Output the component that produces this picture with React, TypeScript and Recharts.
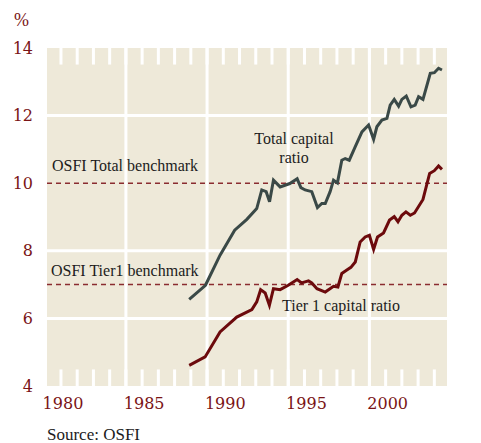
import React from 'react';
import {
  LineChart,
  Line,
  XAxis,
  YAxis,
  CartesianGrid,
  ReferenceLine,
} from 'recharts';

const totalYears = [
  1987.9, 1988.9, 1989.8, 1990.7, 1991.45, 1992.06, 1992.37, 1992.64, 1992.85, 1993.09,
  1993.5, 1994.1, 1994.55, 1994.78, 1995.04, 1995.45, 1995.8, 1996.07, 1996.28, 1996.58,
  1996.79, 1997.03, 1997.3, 1997.51, 1997.76, 1998.13, 1998.54, 1998.95, 1999.26, 1999.46,
  1999.77, 2000.08, 2000.28, 2000.53, 2000.8, 2001.0, 2001.27, 2001.56, 2001.82, 2002.03,
  2002.3, 2002.75, 2003.0, 2003.26, 2003.47,
];
const totalValues = [
  6.56, 6.98, 7.87, 8.61, 8.93, 9.25, 9.8, 9.75, 9.45, 10.09,
  9.89, 9.99, 10.13, 9.87, 9.8, 9.75, 9.28, 9.4, 9.4, 9.75,
  10.09, 10.01, 10.68, 10.73, 10.68, 11.08, 11.52, 11.72, 11.3, 11.67,
  11.87, 11.92, 12.31, 12.48, 12.28, 12.48, 12.58, 12.26, 12.31, 12.56,
  12.48, 13.25, 13.27, 13.4, 13.35,
];

const tier1Years = [
  1987.9, 1988.88, 1989.8, 1990.83, 1991.76, 1992.06, 1992.3, 1992.58, 1992.84, 1993.09,
  1993.5, 1994.0, 1994.55, 1994.82, 1995.25, 1995.45, 1995.77, 1996.28, 1996.79, 1997.06,
  1997.3, 1997.61, 1997.86, 1998.13, 1998.43, 1998.74, 1999.0, 1999.26, 1999.5, 1999.87,
  2000.24, 2000.53, 2000.76, 2001.0, 2001.25, 2001.52, 2001.78, 2002.3, 2002.71, 2003.0,
  2003.26, 2003.47,
];
const tier1Values = [
  4.61, 4.86, 5.6, 6.04, 6.26, 6.49, 6.85, 6.75, 6.39, 6.88,
  6.85, 6.98, 7.15, 7.05, 7.11, 7.05, 6.88, 6.78, 6.95, 6.93,
  7.33, 7.43, 7.51, 7.67, 8.26, 8.41, 8.46, 8.04, 8.41, 8.53,
  8.91, 9.01, 8.86, 9.05, 9.15, 9.05, 9.12, 9.52, 10.29, 10.37,
  10.51, 10.41,
];

const yearTicks = [
  1980, 1981, 1982, 1983, 1984, 1985, 1986, 1987, 1988, 1989, 1990, 1991,
  1992, 1993, 1994, 1995, 1996, 1997, 1998, 1999, 2000, 2001, 2002, 2003,
];
const labelYears = [1980, 1985, 1990, 1995, 2000];
const gridYears = [1984, 1989, 1994, 1999];
const valueTicks = [4, 6, 8, 10, 12, 14];
const gridValues = [6, 8, 12];
const totalBenchmark = 10;
const tier1Benchmark = 7;

const totalData = totalYears.map((year, i) => ({ year, value: totalValues[i] }));
const tier1Data = tier1Years.map((year, i) => ({ year, value: tier1Values[i] }));

const RED = '#7a1416';
const SERIF = '"Liberation Serif", "Times New Roman", serif';
const NUM_FONT = '"DejaVu Serif", serif';
const xDomain = [1979.14, 2003.78];
const yMin = 4;
const yMax = 14;
const notch = 0.49;

export default function App() {
  const axisText = { fill: RED, fontSize: 16, fontFamily: NUM_FONT };
  return (
    <div style={{ position: 'relative', width: 481, height: 443, background: '#fff' }}>
      <style>{'body{margin:0}'}</style>
      <LineChart width={481} height={443} margin={{ top: 48, right: 0, bottom: 27, left: 0 }}>
        <CartesianGrid fill="#eee9d9" fillOpacity={1} horizontal={false} vertical={false} />
        <XAxis
          type="number"
          dataKey="year"
          domain={xDomain}
          allowDataOverflow
          ticks={labelYears}
          interval={0}
          height={30}
          axisLine={false}
          tickLine={false}
          tickSize={0}
          tickMargin={12}
          tick={{ ...axisText, dx: 2 }}
        />
        <YAxis
          domain={[yMin, yMax]}
          ticks={valueTicks}
          width={47}
          axisLine={false}
          tickLine={false}
          tickMargin={8}
          tick={axisText}
        />
        <YAxis
          yAxisId="right"
          orientation="right"
          domain={[yMin, yMax]}
          ticks={valueTicks}
          width={34}
          axisLine={false}
          tickLine={false}
          tickMargin={5}
          tick={axisText}
        />
        {gridValues.map((v) => (
          <ReferenceLine key={`h${v}`} y={v} stroke="#ffffff" strokeWidth={3} />
        ))}
        {gridYears.map((yr) => (
          <ReferenceLine key={`v${yr}`} x={yr} stroke="#ffffff" strokeWidth={3} />
        ))}
        {yearTicks.map((yr) => (
          <ReferenceLine
            key={`b${yr}`}
            segment={[{ x: yr, y: yMin }, { x: yr, y: yMin + notch }]}
            stroke="#ffffff"
            strokeWidth={3}
          />
        ))}
        {yearTicks.map((yr) => (
          <ReferenceLine
            key={`t${yr}`}
            segment={[{ x: yr, y: yMax - notch }, { x: yr, y: yMax }]}
            stroke="#ffffff"
            strokeWidth={3}
          />
        ))}
        <ReferenceLine y={totalBenchmark} stroke="#8a2c30" strokeWidth={1.5} strokeDasharray="5 4" />
        <ReferenceLine y={tier1Benchmark} stroke="#8a2c30" strokeWidth={1.5} strokeDasharray="5 4" />
        <Line
          data={totalData}
          dataKey="value"
          type="linear"
          stroke="#3a4947"
          strokeWidth={3}
          dot={false}
          isAnimationActive={false}
        />
        <Line
          data={tier1Data}
          dataKey="value"
          type="linear"
          stroke="#6c0a0c"
          strokeWidth={3}
          dot={false}
          isAnimationActive={false}
        />
      </LineChart>
      <svg
        width={481}
        height={443}
        style={{ position: 'absolute', left: 0, top: 0, pointerEvents: 'none' }}
        fontFamily={SERIF}
      >
        <text x={14} y={26} fontSize={18} fill={RED}>%</text>
        <text x={52} y={171} fontSize={16} fill="#1c1c1c">OSFI Total benchmark</text>
        <text x={294} y={144} fontSize={16} fill="#1c1c1c" textAnchor="middle">Total capital</text>
        <text x={294} y={163} fontSize={16} fill="#1c1c1c" textAnchor="middle">ratio</text>
        <text x={51} y={276} fontSize={16} fill="#1c1c1c">OSFI Tier1 benchmark</text>
        <text x={282} y={311} fontSize={16} fill="#1c1c1c">Tier 1 capital ratio</text>
        <text x={47} y={440} fontSize={17} fill="#1c1c1c">Source: OSFI</text>
      </svg>
    </div>
  );
}
